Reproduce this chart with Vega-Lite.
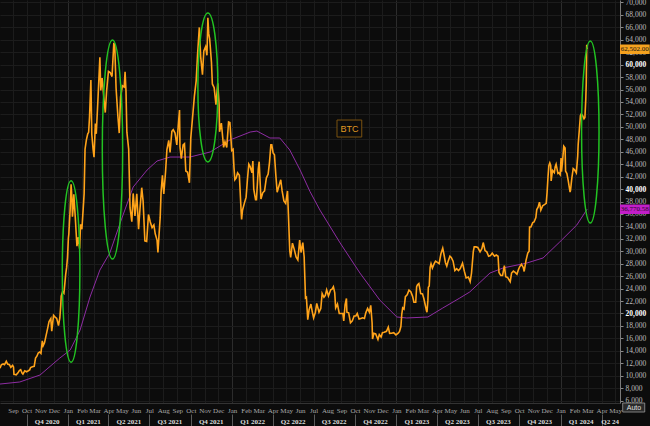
{
 "$schema": "https://vega.github.io/schema/vega-lite/v6.json",
 "width": 620,
 "height": 403,
 "autosize": {"type": "none"},
 "padding": {"left": 0, "top": 0, "right": 30, "bottom": 23},
 "background": "#0c0c0c",
 "config": {"view": {"stroke": null, "fill": "#0c0c0c"}, "font": "Liberation Sans"},
 "datasets": {
  "ma": [
   {"d": "2020-08-03T00:00", "v": 8650},
   {"d": "2020-09-16T00:00", "v": 8980},
   {"d": "2020-10-31T00:00", "v": 10100},
   {"d": "2020-12-14T00:00", "v": 12830},
   {"d": "2021-01-06T00:00", "v": 14120},
   {"d": "2021-01-28T00:00", "v": 17330},
   {"d": "2021-02-19T00:00", "v": 22640},
   {"d": "2021-03-13T00:00", "v": 26980},
   {"d": "2021-04-04T00:00", "v": 29720},
   {"d": "2021-04-27T00:00", "v": 34540},
   {"d": "2021-05-26T00:00", "v": 40330},
   {"d": "2021-06-26T00:00", "v": 43070},
   {"d": "2021-07-18T00:00", "v": 44510},
   {"d": "2021-08-16T00:00", "v": 45150},
   {"d": "2021-09-29T00:00", "v": 45150},
   {"d": "2021-11-13T00:00", "v": 45960},
   {"d": "2021-12-27T00:00", "v": 47890},
   {"d": "2022-02-10T00:00", "v": 49170},
   {"d": "2022-02-25T00:00", "v": 49330},
   {"d": "2022-03-26T00:00", "v": 48210},
   {"d": "2022-04-17T00:00", "v": 48210},
   {"d": "2022-05-09T00:00", "v": 46280},
   {"d": "2022-06-01T00:00", "v": 43060},
   {"d": "2022-06-23T00:00", "v": 39600},
   {"d": "2022-07-15T00:00", "v": 36630},
   {"d": "2022-08-29T00:00", "v": 31330},
   {"d": "2022-10-12T00:00", "v": 26500},
   {"d": "2022-11-25T00:00", "v": 22160},
   {"d": "2023-01-02T00:00", "v": 19430},
   {"d": "2023-01-24T00:00", "v": 19270},
   {"d": "2023-03-12T00:00", "v": 19430},
   {"d": "2023-04-14T00:00", "v": 20870},
   {"d": "2023-05-22T00:00", "v": 22480},
   {"d": "2023-06-13T00:00", "v": 23450},
   {"d": "2023-07-28T00:00", "v": 26500},
   {"d": "2023-08-26T00:00", "v": 27310},
   {"d": "2023-10-18T00:00", "v": 28110},
   {"d": "2023-11-23T00:00", "v": 28920},
   {"d": "2023-12-30T00:00", "v": 31490},
   {"d": "2024-02-06T00:00", "v": 34220},
   {"d": "2024-02-29T00:00", "v": 36770}
  ],
  "btc": [
   {"d": "2020-08-03T00:00", "v": 11200}, {"d": "2020-08-06T00:00", "v": 11750}, {"d": "2020-08-10T00:00", "v": 11880}, {"d": "2020-08-13T00:00", "v": 11770}, {"d": "2020-08-17T00:00", "v": 12300}, {"d": "2020-08-20T00:00", "v": 11860}, {"d": "2020-08-24T00:00", "v": 11750}, {"d": "2020-08-27T00:00", "v": 11330}, {"d": "2020-08-31T00:00", "v": 11650}, {"d": "2020-09-02T00:00", "v": 11400}, {"d": "2020-09-03T00:00", "v": 10200}, {"d": "2020-09-05T00:00", "v": 10180}, {"d": "2020-09-08T00:00", "v": 10130}, {"d": "2020-09-12T00:00", "v": 10450}, {"d": "2020-09-15T00:00", "v": 10800}, {"d": "2020-09-18T00:00", "v": 10950}, {"d": "2020-09-21T00:00", "v": 10420}, {"d": "2020-09-23T00:00", "v": 10240}, {"d": "2020-09-27T00:00", "v": 10780}, {"d": "2020-10-01T00:00", "v": 10620}, {"d": "2020-10-05T00:00", "v": 10790}, {"d": "2020-10-08T00:00", "v": 10930}, {"d": "2020-10-10T00:00", "v": 11300}, {"d": "2020-10-14T00:00", "v": 11430}, {"d": "2020-10-18T00:00", "v": 11500}, {"d": "2020-10-21T00:00", "v": 12820}, {"d": "2020-10-24T00:00", "v": 13120}, {"d": "2020-10-27T00:00", "v": 13650}, {"d": "2020-10-30T00:00", "v": 13800}, {"d": "2020-11-02T00:00", "v": 13560}, {"d": "2020-11-05T00:00", "v": 15590}, {"d": "2020-11-07T00:00", "v": 14830}, {"d": "2020-11-10T00:00", "v": 15300}, {"d": "2020-11-13T00:00", "v": 16300}, {"d": "2020-11-17T00:00", "v": 17650}, {"d": "2020-11-20T00:00", "v": 18680}, {"d": "2020-11-24T00:00", "v": 19170}, {"d": "2020-11-26T00:00", "v": 17150}, {"d": "2020-11-30T00:00", "v": 19700}, {"d": "2020-12-03T00:00", "v": 19450}, {"d": "2020-12-07T00:00", "v": 19200}, {"d": "2020-12-11T00:00", "v": 18050}, {"d": "2020-12-14T00:00", "v": 19270}, {"d": "2020-12-16T00:00", "v": 21300}, {"d": "2020-12-17T00:00", "v": 22800}, {"d": "2020-12-20T00:00", "v": 23480}, {"d": "2020-12-23T00:00", "v": 23240}, {"d": "2020-12-25T00:00", "v": 24710}, {"d": "2020-12-27T00:00", "v": 26270}, {"d": "2020-12-29T00:00", "v": 27360}, {"d": "2020-12-31T00:00", "v": 28990},
   {"d": "2021-01-02T00:00", "v": 32130}, {"d": "2021-01-03T00:00", "v": 32780}, {"d": "2021-01-06T00:00", "v": 36820}, {"d": "2021-01-08T00:00", "v": 40780}, {"d": "2021-01-10T00:00", "v": 38360}, {"d": "2021-01-11T00:00", "v": 35560}, {"d": "2021-01-13T00:00", "v": 37320}, {"d": "2021-01-14T00:00", "v": 39150}, {"d": "2021-01-17T00:00", "v": 35830}, {"d": "2021-01-21T00:00", "v": 30830}, {"d": "2021-01-24T00:00", "v": 32290}, {"d": "2021-01-27T00:00", "v": 30430}, {"d": "2021-01-29T00:00", "v": 34320}, {"d": "2021-02-01T00:00", "v": 33540}, {"d": "2021-02-04T00:00", "v": 36930}, {"d": "2021-02-06T00:00", "v": 39270}, {"d": "2021-02-08T00:00", "v": 46400}, {"d": "2021-02-11T00:00", "v": 47910}, {"d": "2021-02-14T00:00", "v": 48880}, {"d": "2021-02-16T00:00", "v": 49130}, {"d": "2021-02-18T00:00", "v": 51600}, {"d": "2021-02-21T00:00", "v": 57540}, {"d": "2021-02-23T00:00", "v": 48820}, {"d": "2021-02-26T00:00", "v": 46340}, {"d": "2021-02-28T00:00", "v": 45140}, {"d": "2021-03-03T00:00", "v": 50540}, {"d": "2021-03-05T00:00", "v": 48880}, {"d": "2021-03-09T00:00", "v": 54880}, {"d": "2021-03-13T00:00", "v": 61190}, {"d": "2021-03-15T00:00", "v": 55850}, {"d": "2021-03-18T00:00", "v": 57860}, {"d": "2021-03-22T00:00", "v": 54530}, {"d": "2021-03-25T00:00", "v": 52300}, {"d": "2021-03-28T00:00", "v": 55780}, {"d": "2021-04-01T00:00", "v": 58920}, {"d": "2021-04-05T00:00", "v": 58730}, {"d": "2021-04-09T00:00", "v": 58090}, {"d": "2021-04-13T00:00", "v": 63500}, {"d": "2021-04-15T00:00", "v": 63110}, {"d": "2021-04-18T00:00", "v": 56200}, {"d": "2021-04-22T00:00", "v": 51700}, {"d": "2021-04-25T00:00", "v": 49000}, {"d": "2021-04-28T00:00", "v": 54820}, {"d": "2021-05-02T00:00", "v": 56620}, {"d": "2021-05-06T00:00", "v": 56400}, {"d": "2021-05-08T00:00", "v": 58840}, {"d": "2021-05-10T00:00", "v": 55860}, {"d": "2021-05-12T00:00", "v": 49150}, {"d": "2021-05-16T00:00", "v": 46420}, {"d": "2021-05-19T00:00", "v": 37000}, {"d": "2021-05-23T00:00", "v": 34770}, {"d": "2021-05-26T00:00", "v": 39300}, {"d": "2021-05-30T00:00", "v": 35680}, {"d": "2021-06-03T00:00", "v": 39240}, {"d": "2021-06-07T00:00", "v": 33560}, {"d": "2021-06-10T00:00", "v": 36700}, {"d": "2021-06-14T00:00", "v": 40220}, {"d": "2021-06-17T00:00", "v": 38100}, {"d": "2021-06-21T00:00", "v": 31680}, {"d": "2021-06-25T00:00", "v": 31590}, {"d": "2021-06-29T00:00", "v": 35900}, {"d": "2021-07-03T00:00", "v": 34700}, {"d": "2021-07-07T00:00", "v": 33800}, {"d": "2021-07-11T00:00", "v": 34240}, {"d": "2021-07-14T00:00", "v": 32800}, {"d": "2021-07-18T00:00", "v": 31800}, {"d": "2021-07-20T00:00", "v": 29790}, {"d": "2021-07-22T00:00", "v": 32110}, {"d": "2021-07-25T00:00", "v": 35400}, {"d": "2021-07-27T00:00", "v": 39470}, {"d": "2021-07-30T00:00", "v": 42200}, {"d": "2021-08-02T00:00", "v": 39200}, {"d": "2021-08-06T00:00", "v": 42800}, {"d": "2021-08-09T00:00", "v": 46360}, {"d": "2021-08-13T00:00", "v": 47830}, {"d": "2021-08-16T00:00", "v": 45900}, {"d": "2021-08-20T00:00", "v": 49300}, {"d": "2021-08-23T00:00", "v": 49550}, {"d": "2021-08-27T00:00", "v": 49000}, {"d": "2021-08-31T00:00", "v": 47100}, {"d": "2021-09-03T00:00", "v": 50000}, {"d": "2021-09-06T00:00", "v": 52700}, {"d": "2021-09-07T00:00", "v": 46800}, {"d": "2021-09-10T00:00", "v": 44900}, {"d": "2021-09-14T00:00", "v": 47100}, {"d": "2021-09-17T00:00", "v": 47300}, {"d": "2021-09-20T00:00", "v": 42900}, {"d": "2021-09-24T00:00", "v": 42700}, {"d": "2021-09-28T00:00", "v": 41000}, {"d": "2021-10-01T00:00", "v": 48200}, {"d": "2021-10-05T00:00", "v": 51500}, {"d": "2021-10-09T00:00", "v": 54900}, {"d": "2021-10-13T00:00", "v": 57400}, {"d": "2021-10-16T00:00", "v": 61500}, {"d": "2021-10-20T00:00", "v": 65990}, {"d": "2021-10-23T00:00", "v": 61300}, {"d": "2021-10-27T00:00", "v": 58400}, {"d": "2021-10-30T00:00", "v": 62200}, {"d": "2021-11-03T00:00", "v": 62900}, {"d": "2021-11-06T00:00", "v": 61500}, {"d": "2021-11-08T00:00", "v": 67550}, {"d": "2021-11-10T00:00", "v": 64950}, {"d": "2021-11-12T00:00", "v": 64150}, {"d": "2021-11-16T00:00", "v": 60370}, {"d": "2021-11-18T00:00", "v": 56900}, {"d": "2021-11-22T00:00", "v": 56300}, {"d": "2021-11-26T00:00", "v": 53570}, {"d": "2021-11-30T00:00", "v": 57000}, {"d": "2021-12-03T00:00", "v": 53600}, {"d": "2021-12-04T00:00", "v": 49200}, {"d": "2021-12-08T00:00", "v": 50600}, {"d": "2021-12-13T00:00", "v": 46700}, {"d": "2021-12-16T00:00", "v": 47600}, {"d": "2021-12-20T00:00", "v": 46700}, {"d": "2021-12-24T00:00", "v": 50800}, {"d": "2021-12-27T00:00", "v": 50700}, {"d": "2021-12-31T00:00", "v": 46200},
   {"d": "2022-01-03T00:00", "v": 46400}, {"d": "2022-01-05T00:00", "v": 43500}, {"d": "2022-01-07T00:00", "v": 41500}, {"d": "2022-01-10T00:00", "v": 41800}, {"d": "2022-01-13T00:00", "v": 42600}, {"d": "2022-01-17T00:00", "v": 42200}, {"d": "2022-01-21T00:00", "v": 36300}, {"d": "2022-01-22T00:00", "v": 35100}, {"d": "2022-01-24T00:00", "v": 36600}, {"d": "2022-01-28T00:00", "v": 37700}, {"d": "2022-02-01T00:00", "v": 38700}, {"d": "2022-02-04T00:00", "v": 41600}, {"d": "2022-02-07T00:00", "v": 44000}, {"d": "2022-02-10T00:00", "v": 43600}, {"d": "2022-02-14T00:00", "v": 42600}, {"d": "2022-02-16T00:00", "v": 44500}, {"d": "2022-02-18T00:00", "v": 40000}, {"d": "2022-02-22T00:00", "v": 38300}, {"d": "2022-02-24T00:00", "v": 38300}, {"d": "2022-02-28T00:00", "v": 43200}, {"d": "2022-03-02T00:00", "v": 44400}, {"d": "2022-03-06T00:00", "v": 38400}, {"d": "2022-03-10T00:00", "v": 39400}, {"d": "2022-03-14T00:00", "v": 39700}, {"d": "2022-03-18T00:00", "v": 41800}, {"d": "2022-03-22T00:00", "v": 42400}, {"d": "2022-03-25T00:00", "v": 44300}, {"d": "2022-03-28T00:00", "v": 47100}, {"d": "2022-03-30T00:00", "v": 47100}, {"d": "2022-04-02T00:00", "v": 45800}, {"d": "2022-04-05T00:00", "v": 45500}, {"d": "2022-04-08T00:00", "v": 42300}, {"d": "2022-04-11T00:00", "v": 39500}, {"d": "2022-04-15T00:00", "v": 40500}, {"d": "2022-04-19T00:00", "v": 41500}, {"d": "2022-04-22T00:00", "v": 39700}, {"d": "2022-04-26T00:00", "v": 38100}, {"d": "2022-04-30T00:00", "v": 37700}, {"d": "2022-05-04T00:00", "v": 39700}, {"d": "2022-05-06T00:00", "v": 36000}, {"d": "2022-05-09T00:00", "v": 30100}, {"d": "2022-05-11T00:00", "v": 29000}, {"d": "2022-05-15T00:00", "v": 31300}, {"d": "2022-05-19T00:00", "v": 30300}, {"d": "2022-05-23T00:00", "v": 29100}, {"d": "2022-05-27T00:00", "v": 28600}, {"d": "2022-05-31T00:00", "v": 31800}, {"d": "2022-06-03T00:00", "v": 29800}, {"d": "2022-06-07T00:00", "v": 31400}, {"d": "2022-06-10T00:00", "v": 29100}, {"d": "2022-06-13T00:00", "v": 22500}, {"d": "2022-06-15T00:00", "v": 22600}, {"d": "2022-06-18T00:00", "v": 19000}, {"d": "2022-06-21T00:00", "v": 20600}, {"d": "2022-06-25T00:00", "v": 21500}, {"d": "2022-06-28T00:00", "v": 20300}, {"d": "2022-07-01T00:00", "v": 19300}, {"d": "2022-07-05T00:00", "v": 20200}, {"d": "2022-07-08T00:00", "v": 21600}, {"d": "2022-07-13T00:00", "v": 20200}, {"d": "2022-07-17T00:00", "v": 20800}, {"d": "2022-07-20T00:00", "v": 23200}, {"d": "2022-07-24T00:00", "v": 22600}, {"d": "2022-07-27T00:00", "v": 22900}, {"d": "2022-07-30T00:00", "v": 23800}, {"d": "2022-08-03T00:00", "v": 22800}, {"d": "2022-08-08T00:00", "v": 23800}, {"d": "2022-08-11T00:00", "v": 23900}, {"d": "2022-08-14T00:00", "v": 24300}, {"d": "2022-08-17T00:00", "v": 23300}, {"d": "2022-08-19T00:00", "v": 20900}, {"d": "2022-08-23T00:00", "v": 21500}, {"d": "2022-08-27T00:00", "v": 20000}, {"d": "2022-08-31T00:00", "v": 20000}, {"d": "2022-09-04T00:00", "v": 20000}, {"d": "2022-09-06T00:00", "v": 18800}, {"d": "2022-09-09T00:00", "v": 21400}, {"d": "2022-09-12T00:00", "v": 22400}, {"d": "2022-09-13T00:00", "v": 20200}, {"d": "2022-09-17T00:00", "v": 20100}, {"d": "2022-09-21T00:00", "v": 18500}, {"d": "2022-09-25T00:00", "v": 18800}, {"d": "2022-09-29T00:00", "v": 19600}, {"d": "2022-10-03T00:00", "v": 19600}, {"d": "2022-10-06T00:00", "v": 20000}, {"d": "2022-10-10T00:00", "v": 19100}, {"d": "2022-10-14T00:00", "v": 19200}, {"d": "2022-10-18T00:00", "v": 19300}, {"d": "2022-10-22T00:00", "v": 19200}, {"d": "2022-10-25T00:00", "v": 20100}, {"d": "2022-10-29T00:00", "v": 20800}, {"d": "2022-11-02T00:00", "v": 20200}, {"d": "2022-11-05T00:00", "v": 21300}, {"d": "2022-11-08T00:00", "v": 18500}, {"d": "2022-11-09T00:00", "v": 15900}, {"d": "2022-11-12T00:00", "v": 16800}, {"d": "2022-11-16T00:00", "v": 16700}, {"d": "2022-11-21T00:00", "v": 15800}, {"d": "2022-11-24T00:00", "v": 16600}, {"d": "2022-11-28T00:00", "v": 16200}, {"d": "2022-12-01T00:00", "v": 16900}, {"d": "2022-12-05T00:00", "v": 16970}, {"d": "2022-12-10T00:00", "v": 17130}, {"d": "2022-12-14T00:00", "v": 17800}, {"d": "2022-12-17T00:00", "v": 16800}, {"d": "2022-12-21T00:00", "v": 16820}, {"d": "2022-12-26T00:00", "v": 16900}, {"d": "2022-12-31T00:00", "v": 16550},
   {"d": "2023-01-05T00:00", "v": 16830}, {"d": "2023-01-08T00:00", "v": 17100}, {"d": "2023-01-11T00:00", "v": 17900}, {"d": "2023-01-13T00:00", "v": 19900}, {"d": "2023-01-15T00:00", "v": 20900}, {"d": "2023-01-18T00:00", "v": 20700}, {"d": "2023-01-21T00:00", "v": 22700}, {"d": "2023-01-25T00:00", "v": 23000}, {"d": "2023-01-29T00:00", "v": 23750}, {"d": "2023-02-02T00:00", "v": 23500}, {"d": "2023-02-06T00:00", "v": 22750}, {"d": "2023-02-09T00:00", "v": 21800}, {"d": "2023-02-13T00:00", "v": 21800}, {"d": "2023-02-15T00:00", "v": 24300}, {"d": "2023-02-17T00:00", "v": 24600}, {"d": "2023-02-20T00:00", "v": 24800}, {"d": "2023-02-24T00:00", "v": 23200}, {"d": "2023-02-28T00:00", "v": 23150}, {"d": "2023-03-03T00:00", "v": 22400}, {"d": "2023-03-09T00:00", "v": 20400}, {"d": "2023-03-10T00:00", "v": 20200}, {"d": "2023-03-12T00:00", "v": 22100}, {"d": "2023-03-13T00:00", "v": 24200}, {"d": "2023-03-15T00:00", "v": 24400}, {"d": "2023-03-17T00:00", "v": 27400}, {"d": "2023-03-19T00:00", "v": 28000}, {"d": "2023-03-22T00:00", "v": 27300}, {"d": "2023-03-26T00:00", "v": 28000}, {"d": "2023-03-29T00:00", "v": 28400}, {"d": "2023-04-02T00:00", "v": 28200}, {"d": "2023-04-06T00:00", "v": 28000}, {"d": "2023-04-10T00:00", "v": 29600}, {"d": "2023-04-14T00:00", "v": 30500}, {"d": "2023-04-17T00:00", "v": 29400}, {"d": "2023-04-20T00:00", "v": 28200}, {"d": "2023-04-23T00:00", "v": 27600}, {"d": "2023-04-26T00:00", "v": 28400}, {"d": "2023-04-30T00:00", "v": 29200}, {"d": "2023-05-03T00:00", "v": 29000}, {"d": "2023-05-07T00:00", "v": 28400}, {"d": "2023-05-11T00:00", "v": 26900}, {"d": "2023-05-15T00:00", "v": 27200}, {"d": "2023-05-19T00:00", "v": 26900}, {"d": "2023-05-23T00:00", "v": 27200}, {"d": "2023-05-28T00:00", "v": 28100}, {"d": "2023-06-01T00:00", "v": 26800}, {"d": "2023-06-05T00:00", "v": 25700}, {"d": "2023-06-10T00:00", "v": 25850}, {"d": "2023-06-14T00:00", "v": 25100}, {"d": "2023-06-17T00:00", "v": 26500}, {"d": "2023-06-21T00:00", "v": 30000}, {"d": "2023-06-23T00:00", "v": 30700}, {"d": "2023-06-27T00:00", "v": 30700}, {"d": "2023-07-01T00:00", "v": 30600}, {"d": "2023-07-06T00:00", "v": 29900}, {"d": "2023-07-10T00:00", "v": 30400}, {"d": "2023-07-13T00:00", "v": 31400}, {"d": "2023-07-17T00:00", "v": 30100}, {"d": "2023-07-21T00:00", "v": 29900}, {"d": "2023-07-25T00:00", "v": 29200}, {"d": "2023-07-29T00:00", "v": 29300}, {"d": "2023-08-02T00:00", "v": 29700}, {"d": "2023-08-07T00:00", "v": 29200}, {"d": "2023-08-11T00:00", "v": 29400}, {"d": "2023-08-15T00:00", "v": 29200}, {"d": "2023-08-17T00:00", "v": 26600}, {"d": "2023-08-21T00:00", "v": 26100}, {"d": "2023-08-25T00:00", "v": 26100}, {"d": "2023-08-29T00:00", "v": 27700}, {"d": "2023-09-01T00:00", "v": 25900}, {"d": "2023-09-05T00:00", "v": 25800}, {"d": "2023-09-11T00:00", "v": 25100}, {"d": "2023-09-14T00:00", "v": 26500}, {"d": "2023-09-18T00:00", "v": 26800}, {"d": "2023-09-22T00:00", "v": 26600}, {"d": "2023-09-26T00:00", "v": 26300}, {"d": "2023-09-29T00:00", "v": 27000}, {"d": "2023-10-02T00:00", "v": 27500}, {"d": "2023-10-06T00:00", "v": 27900}, {"d": "2023-10-10T00:00", "v": 27400}, {"d": "2023-10-12T00:00", "v": 26750}, {"d": "2023-10-16T00:00", "v": 28500}, {"d": "2023-10-20T00:00", "v": 29700}, {"d": "2023-10-23T00:00", "v": 30000}, {"d": "2023-10-24T00:00", "v": 33900}, {"d": "2023-10-27T00:00", "v": 33900}, {"d": "2023-10-31T00:00", "v": 34600}, {"d": "2023-11-03T00:00", "v": 34700}, {"d": "2023-11-07T00:00", "v": 35400}, {"d": "2023-11-09T00:00", "v": 36700}, {"d": "2023-11-12T00:00", "v": 37100}, {"d": "2023-11-15T00:00", "v": 37900}, {"d": "2023-11-18T00:00", "v": 36600}, {"d": "2023-11-22T00:00", "v": 37300}, {"d": "2023-11-26T00:00", "v": 37500}, {"d": "2023-11-30T00:00", "v": 37700}, {"d": "2023-12-02T00:00", "v": 39500}, {"d": "2023-12-04T00:00", "v": 41980}, {"d": "2023-12-06T00:00", "v": 43800}, {"d": "2023-12-08T00:00", "v": 44200}, {"d": "2023-12-10T00:00", "v": 43800}, {"d": "2023-12-11T00:00", "v": 41300}, {"d": "2023-12-14T00:00", "v": 43000}, {"d": "2023-12-18T00:00", "v": 42650}, {"d": "2023-12-20T00:00", "v": 43600}, {"d": "2023-12-22T00:00", "v": 44000}, {"d": "2023-12-26T00:00", "v": 42500}, {"d": "2023-12-28T00:00", "v": 42600}, {"d": "2023-12-31T00:00", "v": 42300},
   {"d": "2024-01-02T00:00", "v": 45000}, {"d": "2024-01-03T00:00", "v": 42800}, {"d": "2024-01-05T00:00", "v": 44200}, {"d": "2024-01-08T00:00", "v": 46900}, {"d": "2024-01-11T00:00", "v": 46600}, {"d": "2024-01-12T00:00", "v": 42900}, {"d": "2024-01-15T00:00", "v": 42500}, {"d": "2024-01-18T00:00", "v": 41300}, {"d": "2024-01-22T00:00", "v": 39500}, {"d": "2024-01-23T00:00", "v": 39800}, {"d": "2024-01-26T00:00", "v": 41800}, {"d": "2024-01-29T00:00", "v": 43300}, {"d": "2024-02-01T00:00", "v": 43100}, {"d": "2024-02-05T00:00", "v": 42600}, {"d": "2024-02-08T00:00", "v": 45300}, {"d": "2024-02-09T00:00", "v": 47100}, {"d": "2024-02-12T00:00", "v": 49900}, {"d": "2024-02-14T00:00", "v": 51800}, {"d": "2024-02-16T00:00", "v": 52100}, {"d": "2024-02-19T00:00", "v": 51800}, {"d": "2024-02-22T00:00", "v": 51300}, {"d": "2024-02-24T00:00", "v": 51500}, {"d": "2024-02-26T00:00", "v": 54500}, {"d": "2024-02-27T00:00", "v": 57000}, {"d": "2024-02-28T00:00", "v": 63200}, {"d": "2024-02-29T00:00", "v": 62502}
  ]
 },
 "resolve": {"axis": {"x": "independent", "y": "independent"}},
 "layer": [
  {
   "data": {"name": "ma"},
   "mark": {"type": "line", "color": "#8e2ca3", "strokeWidth": 1},
   "encoding": {
    "x": {"field": "d", "type": "temporal",
     "scale": {"type": "time", "domain": [{"year": 2020, "month": 8, "date": 3}, {"year": 2024, "month": 5, "date": 12}]},
     "axis": {"orient": "bottom", "title": null, "format": "%b",
      "values": [{"year":2020,"month":8,"date":1},{"year":2020,"month":9,"date":1},{"year":2020,"month":10,"date":1},{"year":2020,"month":11,"date":1},{"year":2020,"month":12,"date":1},
       {"year":2021,"month":1,"date":1},{"year":2021,"month":2,"date":1},{"year":2021,"month":3,"date":1},{"year":2021,"month":4,"date":1},{"year":2021,"month":5,"date":1},{"year":2021,"month":6,"date":1},{"year":2021,"month":7,"date":1},{"year":2021,"month":8,"date":1},{"year":2021,"month":9,"date":1},{"year":2021,"month":10,"date":1},{"year":2021,"month":11,"date":1},{"year":2021,"month":12,"date":1},
       {"year":2022,"month":1,"date":1},{"year":2022,"month":2,"date":1},{"year":2022,"month":3,"date":1},{"year":2022,"month":4,"date":1},{"year":2022,"month":5,"date":1},{"year":2022,"month":6,"date":1},{"year":2022,"month":7,"date":1},{"year":2022,"month":8,"date":1},{"year":2022,"month":9,"date":1},{"year":2022,"month":10,"date":1},{"year":2022,"month":11,"date":1},{"year":2022,"month":12,"date":1},
       {"year":2023,"month":1,"date":1},{"year":2023,"month":2,"date":1},{"year":2023,"month":3,"date":1},{"year":2023,"month":4,"date":1},{"year":2023,"month":5,"date":1},{"year":2023,"month":6,"date":1},{"year":2023,"month":7,"date":1},{"year":2023,"month":8,"date":1},{"year":2023,"month":9,"date":1},{"year":2023,"month":10,"date":1},{"year":2023,"month":11,"date":1},{"year":2023,"month":12,"date":1},
       {"year":2024,"month":1,"date":1},{"year":2024,"month":2,"date":1},{"year":2024,"month":3,"date":1},{"year":2024,"month":4,"date":1},{"year":2024,"month":5,"date":1}],
      "labelFont": "Liberation Sans Narrow", "labelFontSize": 7, "labelColor": "#aaaaaa", "labelPadding": 3, "labelBaseline": "top", "labelAlign": "center",
      "ticks": false, "domain": true, "domainColor": "#333333",
      "grid": true, "gridWidth": 1,
      "gridColor": {"condition": {"test": "month(datum.value) == 0", "value": "#2c2c2c"}, "value": "#1c1c1c"},
      "labelOverlap": false, "labelFlush": false, "labelBound": false}
    },
    "y": {"field": "v", "type": "quantitative",
     "scale": {"domain": [5600, 70400], "nice": false, "zero": false},
     "axis": {"orient": "right", "title": null, "format": ",d",
      "values": [6000,8000,10000,12000,14000,16000,18000,20000,22000,24000,26000,28000,30000,32000,34000,36000,38000,40000,42000,44000,46000,48000,50000,52000,54000,56000,58000,60000,62000,64000,66000,68000,70000],
      "labelFont": "Liberation Sans Narrow", "labelFontSize": 7.5, "labelPadding": 2,
      "labelColor": {"condition": {"test": "datum.value % 20000 == 0", "value": "#ffffff"}, "value": "#bdbdbd"},
      "labelFontWeight": {"condition": {"test": "datum.value % 20000 == 0", "value": "bold"}, "value": "normal"},
      "tickSize": 3, "tickColor": "#8a8a8a", "domain": true, "domainColor": "#7a7a7a",
      "grid": true, "gridColor": "#1c1c1c", "gridWidth": 1,
      "labelOverlap": false, "labelFlush": false, "labelBound": false}
    }
   }
  },
  {
   "data": {"name": "btc"},
   "mark": {"type": "line", "color": "#ffa31a", "strokeWidth": 1.6},
   "encoding": {
    "x": {"field": "d", "type": "temporal",
     "axis": {"orient": "bottom", "title": null, "offset": 11,
      "values": [{"year":2020,"month":7,"date":1},{"year":2020,"month":10,"date":1},
       {"year":2021,"month":1,"date":1},{"year":2021,"month":4,"date":1},{"year":2021,"month":7,"date":1},{"year":2021,"month":10,"date":1},
       {"year":2022,"month":1,"date":1},{"year":2022,"month":4,"date":1},{"year":2022,"month":7,"date":1},{"year":2022,"month":10,"date":1},
       {"year":2023,"month":1,"date":1},{"year":2023,"month":4,"date":1},{"year":2023,"month":7,"date":1},{"year":2023,"month":10,"date":1},
       {"year":2024,"month":1,"date":1},{"year":2024,"month":4,"date":1}],
      "labelExpr": "'Q' + quarter(datum.value) + ' ' + (year(datum.value) == 2024 && quarter(datum.value) == 2 ? '24' : year(datum.value))",
      "domain": false, "grid": false, "ticks": true, "tickSize": 12, "tickColor": "#5a5a5a",
      "labelPadding": -9, "labelBaseline": "top", "labelAlign": "center",
      "labelOffset": {"condition": {"test": "year(datum.value) == 2024 && month(datum.value) == 3", "value": 8}, "value": 20},
      "labelFont": "Liberation Sans Narrow", "labelFontSize": 7, "labelFontWeight": "bold", "labelColor": "#dedede",
      "labelOverlap": false, "labelFlush": false, "labelBound": false}
    },
    "y": {"field": "v", "type": "quantitative", "axis": null}
   }
  },
  {
   "data": {"values": [{}]},
   "mark": {"type": "point", "shape": "M0,-1A0.097,1 0 1,1 0,1A0.097,1 0 1,1 0,-1Z", "filled": false, "color": "#22c322", "strokeWidth": 1.5, "size": 32905, "opacity": 1},
   "encoding": {"x": {"datum": {"year": 2021, "month": 1, "date": 8}, "type": "temporal", "axis": null}, "y": {"datum": 26743, "type": "quantitative", "axis": null}}
  },
  {
   "data": {"values": [{}]},
   "mark": {"type": "point", "shape": "M0,-1A0.093,1 0 1,1 0,1A0.093,1 0 1,1 0,-1Z", "filled": false, "color": "#22c322", "strokeWidth": 1.5, "size": 47961, "opacity": 1},
   "encoding": {"x": {"datum": {"year": 2021, "month": 4, "date": 10}, "type": "temporal", "axis": null}, "y": {"datum": 46361, "type": "quantitative", "axis": null}}
  },
  {
   "data": {"values": [{}]},
   "mark": {"type": "point", "shape": "M0,-1A0.134,1 0 1,1 0,1A0.134,1 0 1,1 0,-1Z", "filled": false, "color": "#22c322", "strokeWidth": 1.5, "size": 22201, "opacity": 1},
   "encoding": {"x": {"datum": {"year": 2021, "month": 11, "date": 8}, "type": "temporal", "axis": null}, "y": {"datum": 56330, "type": "quantitative", "axis": null}}
  },
  {
   "data": {"values": [{}]},
   "mark": {"type": "point", "shape": "M0,-1A0.096,1 0 1,1 0,1A0.096,1 0 1,1 0,-1Z", "filled": false, "color": "#22c322", "strokeWidth": 1.5, "size": 33124, "opacity": 1},
   "encoding": {"x": {"datum": {"year": 2024, "month": 3, "date": 7}, "type": "temporal", "axis": null}, "y": {"datum": 49174, "type": "quantitative", "axis": null}}
  },
  {
   "data": {"values": [{}]},
   "mark": {"type": "rect", "fill": "#0c0c0c", "stroke": "#7a5210", "strokeWidth": 1},
   "encoding": {
    "x": {"datum": {"year": 2022, "month": 8, "date": 22}, "type": "temporal", "axis": null},
    "x2": {"datum": {"year": 2022, "month": 10, "date": 16}},
    "y": {"datum": 51100, "type": "quantitative", "axis": null},
    "y2": {"datum": 48370}
   }
  },
  {
   "data": {"values": [{}]},
   "mark": {"type": "text", "text": "BTC", "color": "#e09a22", "fontSize": 9, "align": "center", "baseline": "middle"},
   "encoding": {"x": {"datum": {"year": 2022, "month": 9, "date": 19}, "type": "temporal", "axis": null}, "y": {"datum": 49737, "type": "quantitative", "axis": null}}
  },
  {
   "data": {"values": [{}]},
   "mark": {"type": "rect", "fill": "#f5a21f", "clip": false},
   "encoding": {
    "x": {"datum": {"year": 2024, "month": 5, "date": 12}, "type": "temporal", "axis": null},
    "x2": {"datum": {"year": 2024, "month": 7, "date": 17}},
    "y": {"datum": 63244, "type": "quantitative", "axis": null},
    "y2": {"datum": 61717}
   }
  },
  {
   "data": {"values": [{}]},
   "mark": {"type": "text", "text": "62,502.00", "color": "#111111", "font": "Liberation Sans Narrow", "fontSize": 7, "align": "center", "baseline": "middle", "clip": false},
   "encoding": {"x": {"datum": {"year": 2024, "month": 6, "date": 14}, "type": "temporal", "axis": null}, "y": {"datum": 62480, "type": "quantitative", "axis": null}}
  },
  {
   "data": {"values": [{}]},
   "mark": {"type": "rect", "fill": "#c21ec8", "clip": false},
   "encoding": {
    "x": {"datum": {"year": 2024, "month": 5, "date": 12}, "type": "temporal", "axis": null},
    "x2": {"datum": {"year": 2024, "month": 7, "date": 17}},
    "y": {"datum": 37517, "type": "quantitative", "axis": null},
    "y2": {"datum": 35989}
   }
  },
  {
   "data": {"values": [{}]},
   "mark": {"type": "text", "text": "36,770.58", "color": "#2a0a2c", "font": "Liberation Sans Narrow", "fontSize": 7, "align": "center", "baseline": "middle", "clip": false},
   "encoding": {"x": {"datum": {"year": 2024, "month": 6, "date": 14}, "type": "temporal", "axis": null}, "y": {"datum": 36750, "type": "quantitative", "axis": null}}
  },
  {
   "data": {"values": [{}]},
   "mark": {"type": "rect", "fill": "#2a2a2a", "stroke": "#9a9a9a", "strokeWidth": 0.8, "clip": false},
   "encoding": {
    "x": {"datum": {"year": 2024, "month": 5, "date": 18}, "type": "temporal", "axis": null},
    "x2": {"datum": {"year": 2024, "month": 7, "date": 6}},
    "y": {"datum": 5600, "type": "quantitative", "axis": null},
    "y2": {"datum": 4150}
   }
  },
  {
   "data": {"values": [{}]},
   "mark": {"type": "text", "text": "Auto", "color": "#e0e0e0", "fontSize": 7, "align": "center", "baseline": "middle", "clip": false},
   "encoding": {"x": {"datum": {"year": 2024, "month": 6, "date": 12}, "type": "temporal", "axis": null}, "y": {"datum": 4875, "type": "quantitative", "axis": null}}
  }
 ]
}
